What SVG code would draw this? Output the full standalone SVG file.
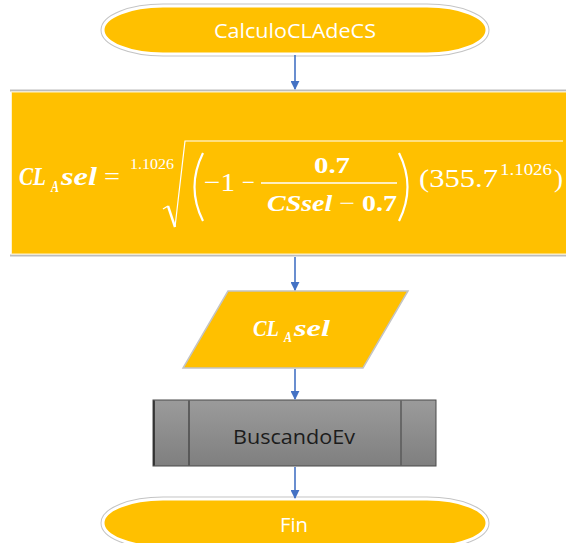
<svg xmlns="http://www.w3.org/2000/svg" width="566" height="543" viewBox="0 0 566 543">
  <defs>
    <linearGradient id="grayFill" x1="0" y1="0" x2="0" y2="1">
      <stop offset="0" stop-color="#9b9b9b"/>
      <stop offset="1" stop-color="#7f7f7f"/>
    </linearGradient>
    <marker id="arrow" viewBox="0 0 10 10" refX="9" refY="5" markerWidth="9" markerHeight="9" markerUnits="userSpaceOnUse" orient="auto">
      <path d="M0,0 L10,5 L0,10 Z" fill="#4472C4"/>
    </marker>
    <style>
      .halo { fill: none; stroke: #c4c4c4; stroke-width: 5; }
      .body { fill: #FFC000; stroke: #ffffff; stroke-width: 3; }
      .label { font-family: "Open Sans", "Liberation Sans", sans-serif; font-size: 20px; fill: #ffffff; text-anchor: middle; }
      .math { font-family: "Liberation Serif", "DejaVu Serif", serif; font-weight: bold; fill: #ffffff; }
      .it { font-style: italic; }
      .reg { font-weight: normal; }
      .conn { stroke: #4472C4; stroke-width: 1.6; fill: none; marker-end: url(#arrow); }
      .mline { stroke: #ffffff; fill: none; }
    </style>
  </defs>

  <rect width="566" height="543" fill="#ffffff"/>

  <!-- start terminal -->
  <g id="start">
    <path class="halo" d="M163,6 H427 A60,24 0 0 1 427,54 H163 A60,24 0 0 1 163,6 Z"/>
    <path class="body" d="M163,6 H427 A60,24 0 0 1 427,54 H163 A60,24 0 0 1 163,6 Z"/>
    <text class="label" x="295" y="38" textLength="162" lengthAdjust="spacingAndGlyphs">CalculoCLAdeCS</text>
  </g>

  <!-- formula process box -->
  <g id="formula">
    <line x1="10" y1="90.5" x2="566" y2="90.5" stroke="#bdbdbd" stroke-width="2"/>
    <line x1="10" y1="255.5" x2="566" y2="255.5" stroke="#bdbdbd" stroke-width="2"/>
    <rect x="11.5" y="92" width="560" height="162" fill="#FFC000" stroke="#fff3cc" stroke-width="1"/>

    <g transform="translate(0,3)">
      <text class="math it" x="19" y="182" font-size="25" textLength="27" lengthAdjust="spacingAndGlyphs">CL</text>
      <text class="math it" x="51" y="189" font-size="16" textLength="8" lengthAdjust="spacingAndGlyphs">A</text>
      <text class="math it" x="61" y="182" font-size="25" textLength="36" lengthAdjust="spacingAndGlyphs">sel</text>
      <text class="math reg" x="104" y="182" font-size="26" textLength="16" lengthAdjust="spacingAndGlyphs">=</text>

      <text class="math reg" x="130" y="166" font-size="14" textLength="44" lengthAdjust="spacingAndGlyphs">1.1026</text>
      <path class="mline" stroke-width="1.4" d="M163,206 L168,203"/>
      <path class="mline" stroke-width="2.4" d="M168,203 L175,224"/>
      <path class="mline" stroke-width="1.2" d="M175,224 L185,138 H563"/>

      <path class="mline" stroke-width="2.2" d="M203,150 Q186,184 203,218"/>
      <text class="math reg" x="204" y="188" font-size="26" textLength="31" lengthAdjust="spacingAndGlyphs">−1</text>
      <text class="math reg" x="242" y="188" font-size="26" textLength="13" lengthAdjust="spacingAndGlyphs">−</text>
      <text class="math" x="314" y="170" font-size="24" textLength="36" lengthAdjust="spacingAndGlyphs">0.7</text>
      <line class="mline" stroke-width="1.5" x1="261" y1="180" x2="397" y2="180"/>
      <text class="math" x="267" y="208" font-size="24" textLength="130" lengthAdjust="spacingAndGlyphs"><tspan class="it">CSsel</tspan><tspan class="reg"> − </tspan>0.7</text>
      <path class="mline" stroke-width="2.2" d="M399,150 Q416,184 399,218"/>

      <text class="math reg" x="419" y="184" font-size="26" textLength="79" lengthAdjust="spacingAndGlyphs">(355.7</text>
      <text class="math reg" x="500" y="172" font-size="17" textLength="52" lengthAdjust="spacingAndGlyphs">1.1026</text>
      <text class="math reg" x="554" y="184" font-size="26" textLength="9" lengthAdjust="spacingAndGlyphs">)</text>
    </g>
  </g>

  <!-- output parallelogram -->
  <g id="output">
    <polygon points="228,291 408,291 363,368 183,368" fill="#FFC000" stroke="#c4c4c4" stroke-width="1.5"/>
    <text class="math it" x="253" y="336" font-size="24" textLength="26" lengthAdjust="spacingAndGlyphs">CL</text>
    <text class="math it" x="284" y="342" font-size="15" textLength="8" lengthAdjust="spacingAndGlyphs">A</text>
    <text class="math it" x="294" y="336" font-size="24" textLength="36" lengthAdjust="spacingAndGlyphs">sel</text>
  </g>

  <!-- predefined process -->
  <g id="buscando">
    <rect x="153" y="400" width="283" height="66" fill="url(#grayFill)" stroke="#4a4a4a" stroke-width="1"/>
    <line x1="154" y1="400.5" x2="154" y2="465.5" stroke="#222222" stroke-width="1.5"/>
    <line x1="189" y1="400.5" x2="189" y2="465.5" stroke="#4a4a4a" stroke-width="1.5"/>
    <line x1="401" y1="400.5" x2="401" y2="465.5" stroke="#5a5a5a" stroke-width="1.5"/>
    <text x="294" y="444" font-family="'Open Sans', 'Liberation Sans', sans-serif" font-size="20" fill="#1c1c1c" text-anchor="middle" textLength="122" lengthAdjust="spacingAndGlyphs">BuscandoEv</text>
  </g>

  <!-- end terminal -->
  <g id="fin">
    <path class="halo" d="M163,499 H427 A60,24 0 0 1 427,547 H163 A60,24 0 0 1 163,499 Z"/>
    <path class="body" d="M163,499 H427 A60,24 0 0 1 427,547 H163 A60,24 0 0 1 163,499 Z"/>
    <text class="label" x="294" y="532" textLength="28" lengthAdjust="spacingAndGlyphs">Fin</text>
  </g>

  <!-- connectors -->
  <g id="connectors">
    <line class="conn" x1="295" y1="55" x2="295" y2="89"/>
    <line class="conn" x1="295" y1="257" x2="295" y2="290"/>
    <line class="conn" x1="295" y1="369" x2="295" y2="399"/>
    <line class="conn" x1="295" y1="467" x2="295" y2="498"/>
  </g>
</svg>
